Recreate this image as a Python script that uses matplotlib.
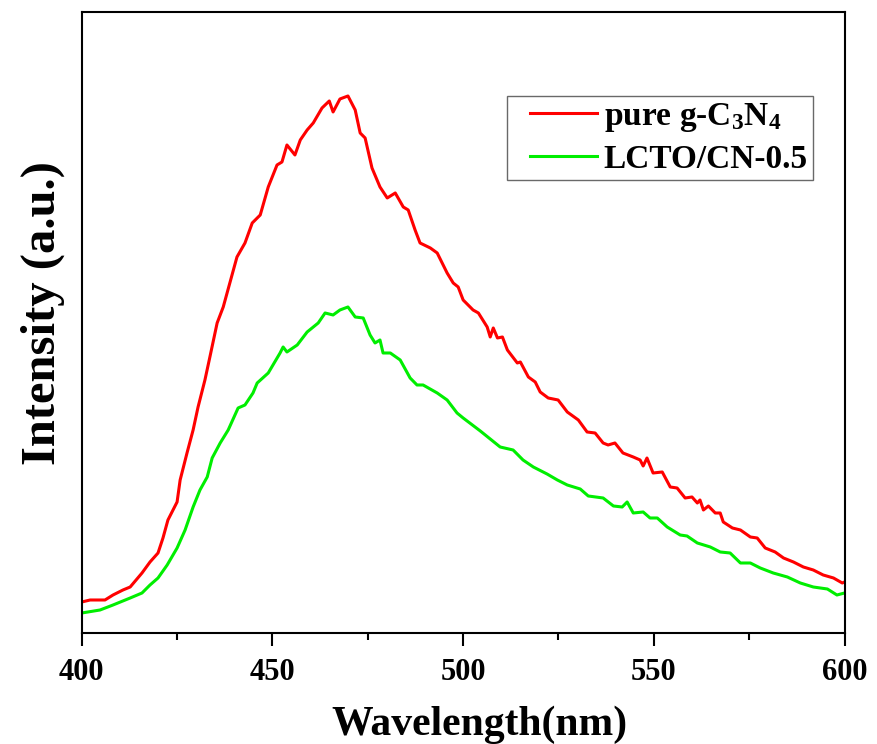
import matplotlib
matplotlib.use("Agg")
from matplotlib import pyplot as plt
from matplotlib.ticker import MultipleLocator, NullLocator
from matplotlib.legend_handler import HandlerLine2D

plt.rcParams['font.family'] = ['Liberation Serif', 'DejaVu Serif']
plt.rcParams['font.weight'] = 'bold'
plt.rcParams['mathtext.fontset'] = 'custom'
plt.rcParams['mathtext.rm'] = 'Liberation Serif:bold'
plt.rcParams['mathtext.default'] = 'rm'

# PL spectra (intensity in arbitrary units)
wl_pure = [400.0, 402.2, 406.1, 408.2, 410.8, 412.7, 415.8, 417.9, 420.0, 421.3,
           422.6, 425.0, 425.8, 427.6, 429.2, 430.5, 432.3, 433.6, 435.5, 437.1,
           440.7, 442.8, 444.7, 446.8, 448.9, 451.2, 452.5, 453.8, 455.9, 457.3,
           459.1, 460.7, 463.0, 464.9, 465.9, 467.7, 469.8, 471.7, 473.0, 474.3,
           476.1, 478.2, 480.1, 482.2, 484.3, 485.6, 487.4, 488.7, 491.4, 493.2,
           495.8, 497.4, 498.7, 500.0, 502.6, 504.0, 506.3, 507.1, 507.9, 509.0,
           510.3, 511.6, 514.2, 515.0, 517.1, 518.9, 520.2, 522.3, 524.9, 527.3,
           530.2, 532.5, 534.6, 536.7, 538.0, 539.8, 541.9, 544.6, 546.4, 547.2,
           548.2, 549.8, 552.2, 554.3, 556.1, 558.2, 560.0, 561.4, 562.1, 563.0,
           564.3, 566.1, 567.4, 568.2, 570.6, 572.7, 575.3, 577.1, 579.2, 581.8,
           584.0, 586.6, 589.2, 591.8, 594.4, 597.1, 599.4, 600.0]
int_pure = [155, 165, 165, 190, 215, 230, 300, 355, 400, 475,
            565, 655, 765, 900, 1015, 1130, 1265, 1380, 1550, 1630,
            1880, 1950, 2050, 2090, 2230, 2340, 2355, 2440, 2390, 2465,
            2515, 2550, 2625, 2660, 2605, 2670, 2685, 2615, 2500, 2475,
            2325, 2230, 2175, 2200, 2130, 2115, 2015, 1950, 1925, 1900,
            1800, 1750, 1730, 1665, 1615, 1600, 1530, 1480, 1525, 1475,
            1480, 1415, 1350, 1355, 1280, 1255, 1205, 1175, 1165, 1105,
            1065, 1005, 1000, 950, 940, 950, 900, 880, 865, 835,
            875, 800, 805, 730, 725, 675, 680, 650, 665, 615,
            635, 600, 600, 555, 525, 515, 480, 475, 425, 405,
            375, 355, 330, 315, 290, 275, 250, 255]

wl_lcto = [400.0, 404.8, 408.2, 412.7, 415.8, 417.9, 420.0, 422.4, 425.0, 427.1,
           429.2, 431.0, 432.9, 434.2, 436.3, 438.4, 441.0, 442.8, 444.9, 446.0,
           448.9, 452.0, 452.8, 453.8, 456.5, 459.1, 462.0, 463.8, 465.9, 467.7,
           469.8, 471.7, 473.8, 475.6, 476.9, 478.2, 479.0, 480.9, 483.5, 486.1,
           487.9, 489.5, 493.2, 495.8, 498.4, 500.0, 504.5, 509.7, 513.1, 515.7,
           518.4, 522.0, 524.7, 527.3, 530.7, 532.8, 536.7, 539.4, 541.7, 543.0,
           544.6, 547.2, 549.0, 550.9, 553.5, 556.9, 558.7, 561.4, 564.8, 567.4,
           570.0, 572.7, 575.3, 577.9, 581.3, 585.0, 588.4, 591.8, 595.5, 598.0,
           600.0]
int_lcto = [100, 115, 140, 175, 200, 240, 275, 340, 425, 515,
            630, 715, 780, 875, 950, 1015, 1125, 1140, 1200, 1250,
            1300, 1400, 1430, 1405, 1440, 1505, 1550, 1600, 1590, 1615,
            1630, 1580, 1575, 1490, 1450, 1465, 1400, 1400, 1365, 1275,
            1240, 1240, 1200, 1165, 1100, 1075, 1010, 930, 915, 865,
            830, 795, 765, 740, 720, 685, 675, 635, 630, 655,
            600, 605, 575, 575, 530, 490, 485, 450, 430, 405,
            400, 350, 350, 325, 300, 280, 250, 230, 220, 190,
            200]

labels = ['pure g-C$_3$N$_4$', 'LCTO/CN-0.5']

fig = plt.figure(figsize=(8.77, 7.44), dpi=100)
ax = fig.add_axes([0.0932, 0.1492, 0.8698, 0.8347])

ax.plot(wl_pure, int_pure, color='#ff0000', lw=2.2, label=labels[0])
ax.plot(wl_lcto, int_lcto, color='#00ee00', lw=2.2, label=labels[1])

ax.set_xlim(400, 600)
ax.set_ylim(0, 3105)
ax.xaxis.set_major_locator(MultipleLocator(50))
ax.xaxis.set_minor_locator(MultipleLocator(25))
ax.yaxis.set_major_locator(NullLocator())
ax.tick_params(axis='x', which='major', direction='out', length=9, width=1.5,
               labelsize=22, pad=9)
ax.tick_params(axis='x', which='minor', direction='out', length=5, width=1.5)
for s in ax.spines.values():
    s.set_linewidth(1.5)

ax.set_xlabel('Wavelength(nm)', fontsize=30, fontweight='bold', labelpad=13)
ax.xaxis.label.set_x(0.521)
ax.set_ylabel('Intensity (a.u.)', fontsize=35, fontweight='bold', labelpad=12)
ax.yaxis.label.set_y(0.515)

leg = ax.legend(loc='upper left', bbox_to_anchor=(507 / 877, 1 - 96 / 744),
                bbox_transform=fig.transFigure, fontsize=24, frameon=True,
                fancybox=False, edgecolor='#444444', handlelength=2.55,
                handletextpad=0.2, borderpad=0.15, labelspacing=0.3,
                borderaxespad=0,
                handler_map={matplotlib.lines.Line2D: HandlerLine2D(xpad=0.55)})
leg.get_frame().set_linewidth(1.0)
for line in leg.get_lines():
    line.set_linewidth(2.2)

plt.savefig('out.png', dpi=100)
